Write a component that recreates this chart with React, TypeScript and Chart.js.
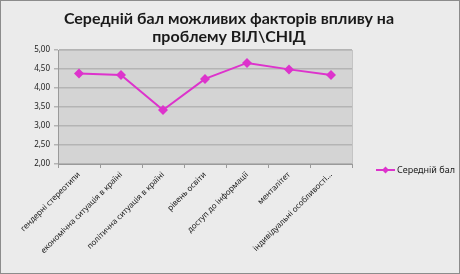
import React, { useEffect, useRef } from "react";
import { Chart, registerables } from "chart.js";

Chart.register(...registerables);

const categories = [
  "гендерні стереотипи",
  "економічна ситуація в країні",
  "політична ситуація в країні",
  "рівень освіти",
  "доступ до інформації",
  "менталітет",
  "індивідуальні особливості...",
];
const seriesName = "Середній бал";
const values = [4.38, 4.34, 3.42, 4.24, 4.66, 4.49, 4.34];
const titleLines = ["Середній бал можливих факторів впливу на", "проблему ВІЛ\\СНІД"];
const yMin = 2;
const yMax = 5;
const yStep = 0.5;

const LINE = "#DD33CC";

export default function App() {
  const ref = useRef<HTMLCanvasElement | null>(null);
  useEffect(() => {
    const canvas = ref.current;
    if (!canvas) return;
    const deco = {
      id: "deco",
      beforeDraw(chart: any) {
        const { ctx, chartArea: a, width, height } = chart;
        ctx.save();
        ctx.fillStyle = "#EBEBEB";
        ctx.fillRect(0, 0, width, height);
        ctx.strokeStyle = "#8C8C8C";
        ctx.lineWidth = 1;
        ctx.strokeRect(0.5, 0.5, width - 1, height - 1);
        ctx.fillStyle = "#D4D4D4";
        ctx.fillRect(a.left, a.top, a.right - a.left, a.bottom - a.top);
        ctx.strokeStyle = "#C4C4C4";
        ctx.strokeRect(a.left + 0.5, a.top + 0.5, a.right - a.left, a.bottom - a.top);
        ctx.restore();
      },
      afterDraw(chart: any) {
        const { ctx } = chart;
        ctx.save();
        ctx.fillStyle = "#1A1A1A";
        ctx.font = "bold 16px Lato";
        ctx.textAlign = "center";
        ctx.textBaseline = "alphabetic";
        ctx.fillText(titleLines[0], 229, 23.5);
        ctx.fillText(titleLines[1], 229, 41.5);
        // legend
        const ly = 170;
        ctx.strokeStyle = LINE;
        ctx.lineWidth = 2;
        ctx.beginPath();
        ctx.moveTo(376, ly);
        ctx.lineTo(395, ly);
        ctx.stroke();
        ctx.fillStyle = LINE;
        ctx.beginPath();
        ctx.moveTo(385.5, ly - 3.5);
        ctx.lineTo(389, ly);
        ctx.lineTo(385.5, ly + 3.5);
        ctx.lineTo(382, ly);
        ctx.closePath();
        ctx.fill();
        ctx.fillStyle = "#1A1A1A";
        ctx.font = "9px 'Noto Sans'";
        ctx.textAlign = "left";
        ctx.textBaseline = "middle";
        ctx.fillText(seriesName, 397, ly);
        ctx.restore();
      },
    };
    const chart = new Chart(canvas, {
      type: "line",
      data: {
        labels: categories,
        datasets: [
          {
            label: seriesName,
            data: values,
            borderColor: LINE,
            backgroundColor: LINE,
            borderWidth: 2,
            pointStyle: "rectRot",
            pointRadius: 5,
            pointBorderWidth: 0,
            tension: 0,
          },
        ],
      },
      options: {
        animation: false,
        responsive: false,
        layout: { padding: { top: 50, right: 108, left: 0, bottom: 0 } },
        plugins: { legend: { display: false }, title: { display: false }, tooltip: { enabled: false } },
        scales: {
          x: {
            offset: true,
            grid: { offset: true, drawOnChartArea: false, drawTicks: true, tickLength: 4, color: "#9A9A9A" },
            border: { color: "#9A9A9A" },
            ticks: {
              autoSkip: false,
              maxRotation: 45,
              minRotation: 45,
              padding: 2,
              color: "#1A1A1A",
              font: { family: "'Noto Sans'", size: 8 },
            },
            afterFit(scale: any) {
              scale.height = 110;
            },
          },
          y: {
            min: yMin,
            max: yMax,
            ticks: {
              stepSize: yStep,
              color: "#1A1A1A",
              padding: 4,
              font: { family: "'Noto Sans'", size: 8 },
              callback: (v: any) => Number(v).toFixed(2).replace(".", ","),
            },
            grid: { color: "#B4B4B4", lineWidth: 1.5, tickLength: 4 },
            border: { color: "#9A9A9A" },
            afterFit(scale: any) {
              scale.width = 58;
            },
          },
        },
      },
      plugins: [deco],
    });
    return () => chart.destroy();
  }, []);
  return (
    <div style={{ position: "fixed", left: 0, top: 0, width: 460, height: 274 }}>
      <canvas ref={ref} width={460} height={274} style={{ display: "block", width: 460, height: 274 }} />
    </div>
  );
}
